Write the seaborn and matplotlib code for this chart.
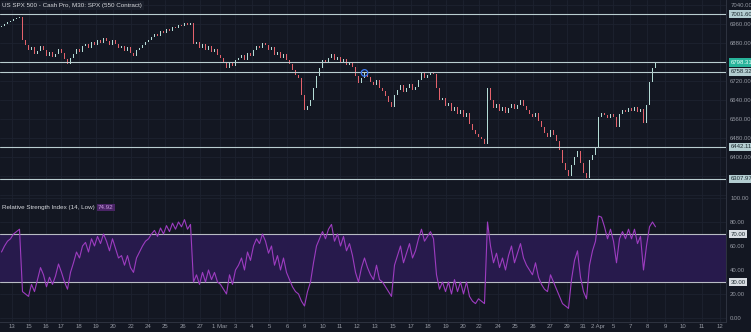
import numpy as np
import pandas as pd
import matplotlib
matplotlib.use("Agg")
import matplotlib.pyplot as plt
import seaborn as sns
from matplotlib.transforms import blended_transform_factory

# ---------------- data ----------------
title = "US SPX 500 - Cash Pro, M30: SPX (550 Contract)"
rsi_title = "Relative Strength Index (14, Low)"
rsi_last = "74.92"

first_open = 6948
close = [
    6952, 6960, 6968, 6973, 6981, 6985, 6990,
    6893,
    6872, 6851, 6863, 6834, 6846, 6867, 6851, 6825, 6842, 6821, 6834, 6855, 6838, 6813, 6792, 6817,
    6834, 6855, 6842, 6867, 6876, 6859, 6884, 6872, 6893, 6880, 6901, 6888, 6872, 6893, 6876, 6859,
    6867, 6846, 6863, 6838, 6825, 6851, 6859, 6872, 6884, 6893,
    6905, 6918, 6909, 6931, 6922, 6939, 6931, 6947, 6943, 6956, 6952, 6964, 6956, 6964,
    6876,
    6884, 6859, 6876, 6851, 6867, 6842, 6855, 6830, 6817,
    6796, 6775, 6800, 6783, 6808, 6817,
    6830, 6808, 6838, 6825, 6851, 6867, 6859, 6880,
    6872, 6851, 6863, 6830, 6842, 6817, 6834, 6808, 6792, 6766, 6745,
    6733, 6661, 6598, 6615, 6640,
    6691, 6741, 6775,
    6808, 6796, 6817, 6834, 6808, 6821, 6800, 6813, 6787, 6800, 6779,
    6741, 6712, 6733, 6754,
    6737, 6716, 6703, 6724, 6691, 6678, 6657, 6632,
    6611,
    6661, 6682, 6703, 6674, 6691, 6707, 6682, 6695, 6724,
    6754, 6733, 6745, 6758, 6750,
    6691, 6640, 6648, 6615, 6627, 6594, 6611, 6581, 6598, 6568, 6585,
    6539, 6514, 6497, 6484, 6476, 6455,
    6691,
    6640, 6606, 6623, 6594, 6611, 6585, 6606, 6623, 6602, 6619, 6640,
    6615, 6598, 6581, 6568, 6585, 6552, 6526, 6501, 6484, 6514, 6493, 6467, 6429,
    6375, 6345, 6320, 6366, 6400, 6425, 6375, 6333, 6312, 6387, 6408,
    6442,
    6568, 6585, 6577, 6564, 6581, 6568, 6526, 6581, 6598, 6589, 6606, 6594, 6611, 6589, 6602,
    6543, 6619, 6716, 6775, 6796,
]

rsi = [
    55, 60, 64, 66, 70, 72, 74,
    22,
    20, 18, 28, 22, 32, 42, 36, 26, 34, 28, 35, 45, 38, 30, 24, 38,
    46, 55, 50, 60, 63, 55, 66, 60, 68, 62, 70, 64, 56, 66, 58, 50,
    52, 44, 52, 42, 38, 50, 55, 60, 64, 66,
    70, 73, 68, 75, 70, 77, 72, 79, 74, 80, 76, 82, 74, 78,
    30,
    36, 28, 38, 30, 40, 32, 38, 30, 28,
    24, 20, 36, 28, 40, 44,
    50, 40, 55, 48, 60, 66, 62, 70,
    64, 54, 60, 44, 52, 40, 50, 38, 32, 26, 22,
    20, 14, 10, 22, 30,
    46, 60, 66,
    72, 66, 74, 78, 64, 70, 60, 68, 56, 62, 52,
    38, 30, 42, 50,
    42, 36, 32, 44, 32, 30, 26, 22,
    18,
    44, 52, 60, 46, 54, 62, 50, 56, 66,
    74, 64, 68, 72, 66,
    36, 24, 30, 22, 30, 20, 32, 22, 30, 20, 30,
    18, 14, 12, 16, 14, 12,
    80,
    60, 46, 54, 42, 50, 40, 52, 60, 46, 54, 62,
    50, 44, 40, 36, 46, 34, 28, 24, 22, 36, 30, 24, 18,
    12, 10, 8, 32, 48, 56, 34, 22, 16, 44, 56,
    64,
    85, 84, 76, 66, 74, 64, 46, 66, 72, 66, 74, 66, 74, 62, 68,
    40, 60, 76, 80, 76,
]

levels = [7001.60, 6798.31, 6758.32, 6442.11, 6307.97]
level_labels = ["7001.60", "6798.31", "6758.32", "6442.11", "6307.97"]
current_level = "6798.31"
price_ticks = [7040, 6960, 6880, 6720, 6640, 6560, 6480, 6400]
price_grid = [7040, 6960, 6880, 6800, 6720, 6640, 6560, 6480, 6400, 6320, 6240]
rsi_ticks = [100, 80, 60, 40, 20, 0]
rsi_levels = [70, 30]
day_labels = ["13", "15", "16", "17", "18", "19", "20", "22", "24", "25", "26", "27",
              "1 Mar", "3", "4", "5", "6", "9", "10", "11", "12", "13", "15", "17",
              "18", "19", "20", "22", "24", "25", "26", "27", "29", "31", "2 Apr",
              "5", "7", "8", "9", "10", "11", "12"]
marker_bar = 121
marker_price = 6754

# ---------------- layout ----------------
W, H = 751, 332
PX = 3.0          # pixels per bar
AX_W = 726        # plot area width in px
day_label_px = [12, 29, 46, 61, 79, 96, 113, 131, 148, 165, 183, 200, 220, 235, 252,
                269, 287, 304, 323, 340, 357, 375, 393, 411, 428, 446, 463, 479, 498,
                515, 533, 550, 567, 583, 598, 613, 630, 647, 665, 683, 702, 720]
tick_x = [p / PX - 0.5 for p in day_label_px]

BG = "#131722"
GRID = "#1d2230"
TXT = "#9599a3"
LEVEL = "#b9cdd0"
UP = "#b4dcd6"
DOWN = "#e5626c"
RSI_C = "#9d3cc0"

sns.set_theme(style="dark", rc={"axes.facecolor": BG, "figure.facecolor": BG})
plt.rcParams["font.family"] = ["Liberation Sans", "DejaVu Sans"]

fig = plt.figure(figsize=(W / 100, H / 100), dpi=100)
ax_p = fig.add_axes([0, 1 - 197 / H, AX_W / W, 197 / H])
ax_r = fig.add_axes([0, 10 / H, AX_W / W, (322 - 197) / H])

n = len(close)
bars = np.arange(n)
opens = np.array([first_open] + close[:-1], dtype=float)
closes = np.array(close, dtype=float)
df = pd.DataFrame({"bar": bars, "open": opens, "close": closes, "rsi": rsi})
df["low"] = np.minimum(df.open, df.close)
df["body"] = np.maximum(np.abs(df.close - df.open), 2.5)
df["col"] = np.where(df.close >= df.open, UP, DOWN)

xlim = (-0.5, AX_W / PX - 0.5)

# ---- price panel ----
for g in price_grid:
    ax_p.axhline(g, color=GRID, lw=0.6, zorder=0)
for t in tick_x:
    ax_p.axvline(t, color=GRID, lw=0.6, zorder=0)
ax_p.bar(df.bar, df.body, bottom=df.low, width=0.55, color=df.col, linewidth=0, zorder=3)
for lev in levels:
    ax_p.axhline(lev, color=LEVEL, lw=0.8, zorder=4)
ax_p.scatter([marker_bar], [marker_price], s=22, facecolor="none", edgecolor="#3d7bf5",
             linewidth=0.9, zorder=5)
ax_p.set_xlim(*xlim)
ax_p.set_ylim(7061.05 - 4.2105 * 197, 7061.05)
ax_p.yaxis.tick_right()
ax_p.set_yticks(price_ticks)
ax_p.set_yticklabels([f"{v:.2f}" for v in price_ticks])
ax_p.tick_params(axis="y", length=0, pad=3, labelsize=4.3, labelcolor=TXT)
ax_p.set_xticks([])
for s in ["top", "left"]:
    ax_p.spines[s].set_visible(False)
for s in ["right", "bottom"]:
    ax_p.spines[s].set_color("#2e3340")
    ax_p.spines[s].set_linewidth(0.7)
ax_p.grid(False)

trans = blended_transform_factory(ax_p.transAxes, ax_p.transData)
for lev, lab in zip(levels, level_labels):
    cur = lab == current_level
    ax_p.text(1.006, lev, lab, transform=trans, fontsize=4.3, va="center", ha="left",
              color="#eafff9" if cur else "#1c2a30",
              bbox=dict(boxstyle="square,pad=0.3", fc="#27b39a" if cur else "#b3cdd1", ec="none"),
              clip_on=False, zorder=6)

ax_p.text(0.003, 0.985, title, transform=ax_p.transAxes, fontsize=4.5, color="#d6d8dd",
          va="top", ha="left",
          bbox=dict(boxstyle="square,pad=0.25", fc="#1a1f2b", ec="none"))

# ---- RSI panel ----
for g in rsi_ticks:
    ax_r.axhline(g, color=GRID, lw=0.6, zorder=0)
for t in tick_x:
    ax_r.axvline(t, color=GRID, lw=0.6, zorder=0)
ax_r.axhspan(rsi_levels[1], rsi_levels[0], color="#271a4c", zorder=1, lw=0)
for lv in rsi_levels:
    ax_r.axhline(lv, color="#b8bcc4", lw=0.8, zorder=2)
sns.lineplot(data=df, x="bar", y="rsi", ax=ax_r, color=RSI_C, linewidth=0.8, zorder=3)
ax_r.set_xlim(*xlim)
ax_r.set_ylim(-(322 - 318) / 1.2, 100 + 1 / 1.2)
ax_r.yaxis.tick_right()
ax_r.set_yticks(rsi_ticks)
ax_r.set_yticklabels([f"{v:.2f}" for v in rsi_ticks])
ax_r.tick_params(axis="y", length=0, pad=3, labelsize=4.3, labelcolor=TXT)
ax_r.set_xticks(tick_x)
ax_r.set_xticklabels(day_labels)
ax_r.tick_params(axis="x", length=0, pad=1.5, labelsize=4.3, labelcolor=TXT)
ax_r.set_xlabel("")
ax_r.set_ylabel("")
for s in ["top", "left"]:
    ax_r.spines[s].set_visible(False)
for s in ["right", "bottom"]:
    ax_r.spines[s].set_color("#2e3340")
    ax_r.spines[s].set_linewidth(0.7)
ax_r.grid(False)

trans_r = blended_transform_factory(ax_r.transAxes, ax_r.transData)
for lv in rsi_levels:
    ax_r.text(1.006, lv, f"{lv:.2f}", transform=trans_r, fontsize=4.3, va="center", ha="left",
              color="#1c2a30", bbox=dict(boxstyle="square,pad=0.3", fc="#d9dde3", ec="none"),
              clip_on=False, zorder=6)

t1 = ax_r.text(0.003, 0.935, rsi_title, transform=ax_r.transAxes, fontsize=4.5,
               color="#d6d8dd", va="top", ha="left")
fig.canvas.draw()
bb = t1.get_window_extent()
x_end = ax_r.transAxes.inverted().transform((bb.x1, bb.y1))[0]
ax_r.text(x_end + 0.004, 0.935, rsi_last, transform=ax_r.transAxes, fontsize=4.5,
          color="#c99ce0", va="top", ha="left",
          bbox=dict(boxstyle="square,pad=0.2", fc="#4a2466", ec="none"))

fig.savefig("out.png", dpi=100, facecolor=BG)
